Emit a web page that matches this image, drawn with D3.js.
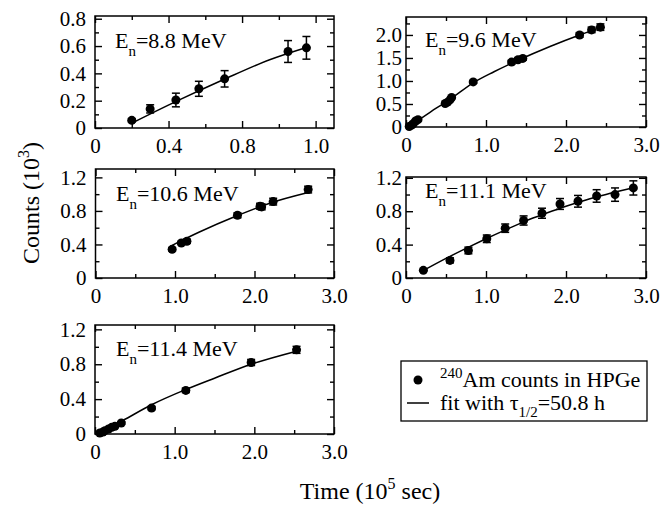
<!DOCTYPE html>
<html>
<head>
<meta charset="utf-8">
<script src="https://cdn.jsdelivr.net/npm/d3@7"></script>
<style>
  html, body { margin: 0; padding: 0; background: #fff; }
  svg { display: block; }
  text { font-family: "Liberation Serif", "Times New Roman", serif; fill: #000; }
</style>
</head>
<body>
<svg id="chart" width="660" height="508"></svg>
<script>
// ---------------- DATA ----------------
const energyLabels = ["8.8", "9.6", "10.6", "11.1", "11.4"];

// Panel 1: En = 8.8 MeV
const p1Time   = [0.20, 0.30, 0.44, 0.565, 0.705, 1.05, 1.15];
const p1Counts = [0.056, 0.14, 0.205, 0.287, 0.36, 0.56, 0.587];
const p1Err    = [0.012, 0.03, 0.05, 0.055, 0.06, 0.08, 0.083];
const p1FitTime   = [0.20, 0.45, 0.70, 0.95, 1.15];
const p1FitCounts = [0.035, 0.20, 0.355, 0.50, 0.59];

// Panel 2: En = 9.6 MeV
const p2Time   = [0.04, 0.07, 0.09, 0.12, 0.15, 0.49, 0.52, 0.55, 0.57, 0.84, 1.32, 1.40, 1.46, 2.17, 2.32, 2.43];
const p2Counts = [0.01, 0.04, 0.07, 0.13, 0.16, 0.51, 0.54, 0.59, 0.64, 0.98, 1.41, 1.46, 1.49, 2.00, 2.11, 2.17];
const p2Err    = [0.01, 0.01, 0.01, 0.015, 0.015, 0.02, 0.02, 0.02, 0.02, 0.03, 0.04, 0.04, 0.04, 0.05, 0.06, 0.07];
const p2FitTime   = [0.03, 0.30, 0.55, 0.84, 1.10, 1.40, 1.80, 2.17, 2.43];
const p2FitCounts = [0.00, 0.32, 0.60, 0.96, 1.20, 1.45, 1.75, 2.00, 2.16];

// Panel 3: En = 10.6 MeV
const p3Time   = [0.964, 1.08, 1.15, 1.786, 2.07, 2.09, 2.235, 2.675];
const p3Counts = [0.342, 0.418, 0.438, 0.748, 0.856, 0.848, 0.911, 1.055];
const p3Err    = [0.02, 0.02, 0.025, 0.03, 0.035, 0.035, 0.04, 0.04];
const p3FitTime   = [0.964, 1.30, 1.786, 2.20, 2.675];
const p3FitCounts = [0.39, 0.545, 0.745, 0.895, 1.02];

// Panel 4: En = 11.1 MeV
const p4Time   = [0.217, 0.55, 0.78, 1.01, 1.24, 1.47, 1.70, 1.925, 2.15, 2.383, 2.613, 2.842];
const p4Counts = [0.092, 0.211, 0.33, 0.47, 0.597, 0.689, 0.776, 0.887, 0.919, 0.983, 0.999, 1.079];
const p4Err    = [0.01, 0.03, 0.04, 0.045, 0.05, 0.055, 0.06, 0.065, 0.07, 0.075, 0.08, 0.085];
const p4FitTime   = [0.217, 0.50, 0.75, 1.00, 1.25, 1.50, 1.75, 2.00, 2.25, 2.50, 2.842];
const p4FitCounts = [0.09, 0.235, 0.355, 0.47, 0.58, 0.685, 0.775, 0.86, 0.935, 1.00, 1.08];

// Panel 5: En = 11.4 MeV
const p5Time   = [0.06, 0.10, 0.125, 0.17, 0.21, 0.25, 0.33, 0.71, 1.14, 1.96, 2.53];
const p5Counts = [0.011, 0.023, 0.038, 0.057, 0.076, 0.088, 0.126, 0.297, 0.50, 0.82, 0.965];
const p5Err    = [0.005, 0.005, 0.005, 0.01, 0.01, 0.01, 0.015, 0.02, 0.025, 0.035, 0.04];
const p5FitTime   = [0.05, 0.35, 0.71, 1.14, 1.50, 1.96, 2.53];
const p5FitCounts = [0.01, 0.155, 0.335, 0.51, 0.64, 0.80, 0.95];

// Tick values / labels
const p1XTicks = [0, 0.4, 0.8, 1.2];
const p1XTickLabels = ["0", "0.4", "0.8", "1.0"];
const p1XMinor = [0.2, 0.6, 1.0];
const p1YTicks = [0, 0.2, 0.4, 0.6, 0.8];
const p1YTickLabels = ["0", "0.2", "0.4", "0.6", "0.8"];
const p1YMinor = [0.1, 0.3, 0.5, 0.7];

const timeTicks = [0, 1, 2, 3];
const timeTickLabels = ["0", "1.0", "2.0", "3.0"];
const timeMinor = [0.5, 1.5, 2.5];

const p2YTicks = [0, 0.5, 1.0, 1.5, 2.0];
const p2YTickLabels = ["0", "0.5", "1.0", "1.5", "2.0"];
const p2YMinor = [0.25, 0.75, 1.25, 1.75, 2.25];

const countTicks = [0, 0.4, 0.8, 1.2];
const countTickLabels = ["0", "0.4", "0.8", "1.2"];
const countMinor = [0.2, 0.6, 1.0];

const legendLabels = ["Am counts in HPGe", "fit with τ", "=50.8 h"];

// ---------------- LAYOUT ----------------
const svg = d3.select("#chart");
const TICK_FONT = 21, LABEL_FONT = 22, TITLE_FONT = 24;

const panels = [
  { t: p1Time, c: p1Counts, e: p1Err, ft: p1FitTime, fc: p1FitCounts,
    box: [95, 334, 16, 128], xd: [0, 1.3], yd: [0, 0.82],
    xt: p1XTicks, xl: p1XTickLabels, xm: p1XMinor,
    yt: p1YTicks, yl: p1YTickLabels, ym: p1YMinor, ypad: 9, lab: [115, 48] },
  { t: p2Time, c: p2Counts, e: p2Err, ft: p2FitTime, fc: p2FitCounts,
    box: [406, 646, 17, 127], xd: [0, 3], yd: [0, 2.39],
    xt: timeTicks, xl: timeTickLabels, xm: timeMinor,
    yt: p2YTicks, yl: p2YTickLabels, ym: p2YMinor, ypad: 4, lab: [425, 47] },
  { t: p3Time, c: p3Counts, e: p3Err, ft: p3FitTime, fc: p3FitCounts,
    box: [95.5, 334, 169, 278], xd: [0, 3], yd: [0, 1.3],
    xt: timeTicks, xl: timeTickLabels, xm: timeMinor,
    yt: countTicks, yl: countTickLabels, ym: countMinor, ypad: 9, lab: [116, 201] },
  { t: p4Time, c: p4Counts, e: p4Err, ft: p4FitTime, fc: p4FitCounts,
    box: [406, 646, 177, 278], xd: [0, 3], yd: [0, 1.21],
    xt: timeTicks, xl: timeTickLabels, xm: timeMinor,
    yt: countTicks, yl: countTickLabels, ym: countMinor, ypad: 4, lab: [425, 198] },
  { t: p5Time, c: p5Counts, e: p5Err, ft: p5FitTime, fc: p5FitCounts,
    box: [95, 334, 325, 434], xd: [0, 3], yd: [0, 1.25],
    xt: timeTicks, xl: timeTickLabels, xm: timeMinor,
    yt: countTicks, yl: countTickLabels, ym: countMinor, ypad: 9, lab: [116, 356] }
];

function styleAxis(sel) {
  sel.select(".domain").remove();
  sel.selectAll("line").attr("stroke", "#000").attr("stroke-width", 1.4);
  sel.selectAll("text").style("font-family", '"Liberation Serif", serif').style("font-size", TICK_FONT + "px").attr("fill", "#000");
}

panels.forEach((p, i) => {
  const [x0, x1, y0, y1] = p.box;
  const x = d3.scaleLinear().domain(p.xd).range([x0, x1]);
  const y = d3.scaleLinear().domain(p.yd).range([y1, y0]);
  const g = svg.append("g");

  // bottom major + minor
  g.append("g").attr("transform", `translate(0,${y1})`)
    .call(d3.axisBottom(x).tickValues(p.xt).tickFormat((d, k) => p.xl[k]).tickSize(-7).tickPadding(10)).call(styleAxis);
  g.append("g").attr("transform", `translate(0,${y1})`)
    .call(d3.axisBottom(x).tickValues(p.xm).tickFormat("").tickSize(-4)).call(styleAxis);
  // top
  g.append("g").attr("transform", `translate(0,${y0})`)
    .call(d3.axisTop(x).tickValues(p.xt).tickFormat("").tickSize(-7)).call(styleAxis);
  g.append("g").attr("transform", `translate(0,${y0})`)
    .call(d3.axisTop(x).tickValues(p.xm).tickFormat("").tickSize(-4)).call(styleAxis);
  // left
  g.append("g").attr("transform", `translate(${x0},0)`)
    .call(d3.axisLeft(y).tickValues(p.yt).tickFormat((d, k) => p.yl[k]).tickSize(-7).tickPadding(p.ypad)).call(styleAxis);
  g.append("g").attr("transform", `translate(${x0},0)`)
    .call(d3.axisLeft(y).tickValues(p.ym).tickFormat("").tickSize(-4)).call(styleAxis);
  // right
  g.append("g").attr("transform", `translate(${x1},0)`)
    .call(d3.axisRight(y).tickValues(p.yt).tickFormat("").tickSize(-7)).call(styleAxis);
  g.append("g").attr("transform", `translate(${x1},0)`)
    .call(d3.axisRight(y).tickValues(p.ym).tickFormat("").tickSize(-4)).call(styleAxis);

  // frame
  g.append("rect").attr("x", x0).attr("y", y0).attr("width", x1 - x0).attr("height", y1 - y0)
    .attr("fill", "none").attr("stroke", "#000").attr("stroke-width", 1.5);

  // fit line
  const fit = p.ft.map((v, k) => [v, p.fc[k]]);
  g.append("path").datum(fit)
    .attr("d", d3.line().x(d => x(d[0])).y(d => y(d[1])).curve(d3.curveMonotoneX))
    .attr("fill", "none").attr("stroke", "#000").attr("stroke-width", 1.5);

  // error bars
  const pts = p.t.map((v, k) => ({ t: v, c: p.c[k], e: p.e[k] }));
  const eb = g.append("g").attr("stroke", "#000").attr("stroke-width", 1.5);
  pts.forEach(d => {
    const ya = y(d.c - d.e), yb = y(d.c + d.e), xx = x(d.t);
    eb.append("line").attr("x1", xx).attr("x2", xx).attr("y1", ya).attr("y2", yb);
    eb.append("line").attr("x1", xx - 4).attr("x2", xx + 4).attr("y1", ya).attr("y2", ya);
    eb.append("line").attr("x1", xx - 4).attr("x2", xx + 4).attr("y1", yb).attr("y2", yb);
  });
  g.append("g").selectAll("circle").data(pts).join("circle")
    .attr("cx", d => x(d.t)).attr("cy", d => y(d.c)).attr("r", 4.5).attr("fill", "#000");

  // energy label
  const lt = g.append("text").attr("x", p.lab[0]).attr("y", p.lab[1]).style("font-size", LABEL_FONT + "px");
  lt.append("tspan").text("E");
  lt.append("tspan").attr("dy", 8).style("font-size", "15px").text("n");
  lt.append("tspan").attr("dy", -8).text("=" + energyLabels[i] + " MeV");
});

// axis titles
const yt = svg.append("text").attr("transform", "translate(39,203) rotate(-90)")
  .attr("text-anchor", "middle").style("font-size", TITLE_FONT + "px");
yt.append("tspan").text("Counts (10");
yt.append("tspan").attr("dy", -10).style("font-size", "16px").text("3");
yt.append("tspan").attr("dy", 10).text(")");

const xt = svg.append("text").attr("x", 370).attr("y", 499)
  .attr("text-anchor", "middle").style("font-size", TITLE_FONT + "px");
xt.append("tspan").text("Time (10");
xt.append("tspan").attr("dy", -10).style("font-size", "16px").text("5");
xt.append("tspan").attr("dy", 10).text(" sec)");

// legend
const lg = svg.append("g");
lg.append("rect").attr("x", 401).attr("y", 361).attr("width", 246).attr("height", 60)
  .attr("fill", "#fff").attr("stroke", "#000").attr("stroke-width", 1.3);
lg.append("circle").attr("cx", 418).attr("cy", 380).attr("r", 4.5).attr("fill", "#000");
const l1 = lg.append("text").attr("x", 440).attr("y", 387).style("font-size", LABEL_FONT + "px");
l1.append("tspan").attr("dy", -9).style("font-size", "15px").text("240");
l1.append("tspan").attr("dy", 9).text(legendLabels[0]);
lg.append("line").attr("x1", 407).attr("x2", 429).attr("y1", 403).attr("y2", 403)
  .attr("stroke", "#000").attr("stroke-width", 1.5);
const l2 = lg.append("text").attr("x", 440).attr("y", 410).style("font-size", LABEL_FONT + "px");
l2.append("tspan").text(legendLabels[1]);
l2.append("tspan").attr("dy", 7).style("font-size", "15px").text("1/2");
l2.append("tspan").attr("dy", -7).text(legendLabels[2]);
</script>
</body>
</html>
